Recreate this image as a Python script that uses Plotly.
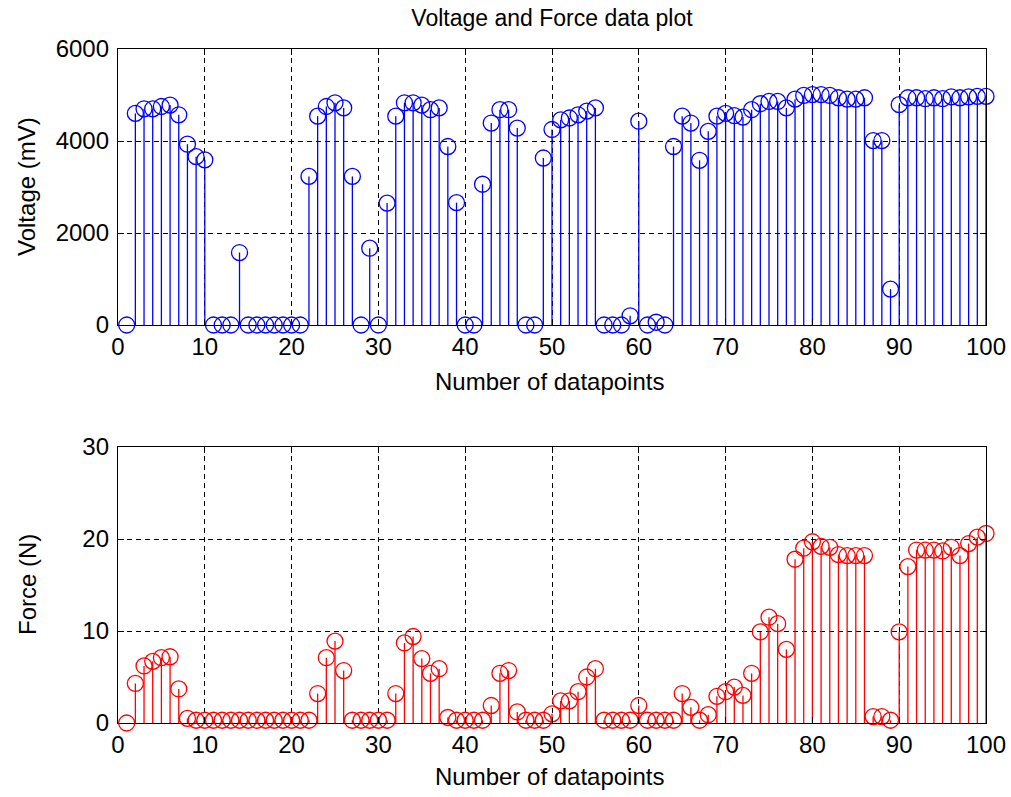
import plotly.graph_objects as go
from plotly.subplots import make_subplots

x_points = list(range(1, 101))

voltage_mv = [
    0, 4600, 4700, 4700, 4750, 4780, 4570, 3930, 3660, 3590,
    0, 0, 0, 1575, 0, 0, 0, 0, 0, 0,
    0, 3230, 4540, 4750, 4830, 4720, 3230, 0, 1670, 0,
    2650, 4540, 4830, 4830, 4780, 4680, 4720, 3880, 2660, 0,
    0, 3060, 4390, 4680, 4680, 4280, 0, 0, 3630, 4250,
    4460, 4500, 4570, 4650, 4720, 0, 0, 0, 200, 4430,
    0, 60, 0, 3880, 4540, 4390, 3580, 4210, 4540, 4600,
    4550, 4520, 4680, 4810, 4860, 4860, 4720, 4910, 4990, 5010,
    5010, 4990, 4940, 4910, 4910, 4940, 4010, 4010, 780, 4790,
    4940, 4940, 4920, 4940, 4920, 4960, 4940, 4960, 4970, 4970,
]

force_n = [
    0, 4.3, 6.2, 6.7, 7.1, 7.2, 3.7, 0.5, 0.3, 0.3,
    0.3, 0.3, 0.3, 0.3, 0.3, 0.3, 0.3, 0.3, 0.3, 0.3,
    0.3, 0.3, 3.2, 7.1, 8.9, 5.7, 0.3, 0.3, 0.3, 0.3,
    0.3, 3.2, 8.7, 9.4, 7.0, 5.4, 5.9, 0.6, 0.3, 0.3,
    0.3, 0.3, 1.9, 5.4, 5.7, 1.2, 0.3, 0.3, 0.3, 1.0,
    2.4, 2.4, 3.4, 5.0, 5.9, 0.3, 0.3, 0.3, 0.3, 1.9,
    0.3, 0.3, 0.3, 0.3, 3.2, 1.7, 0.3, 0.9, 2.9, 3.4,
    3.9, 3.0, 5.4, 9.9, 11.5, 10.8, 8.0, 17.8, 19.0, 19.7,
    19.2, 19.1, 18.3, 18.2, 18.2, 18.2, 0.7, 0.7, 0.3, 9.9,
    17.0, 18.8, 18.8, 18.8, 18.7, 19.1, 18.2, 19.5, 20.2, 20.6,
]

x_ticks = [0, 10, 20, 30, 40, 50, 60, 70, 80, 90, 100]
v_ticks = [0, 2000, 4000, 6000]
f_ticks = [0, 10, 20, 30]

FONT = "Liberation Sans, Arial, sans-serif"
W, H = 1011, 797


def stem_xy(xs, ys):
    sx, sy = [], []
    for a, b in zip(xs, ys):
        sx += [a, a, None]
        sy += [0, b, None]
    return sx, sy


fig = make_subplots(rows=2, cols=1)

for row, vals, color in [(1, voltage_mv, "#0000FF"), (2, force_n, "#FF0000")]:
    sx, sy = stem_xy(x_points, vals)
    fig.add_trace(go.Scatter(x=sx, y=sy, mode="lines",
                             line=dict(color=color, width=1.3),
                             showlegend=False, hoverinfo="skip"), row=row, col=1)
    fig.add_trace(go.Scatter(x=x_points, y=vals, mode="markers",
                             marker=dict(symbol="circle-open", size=16,
                                         color=color, line=dict(width=1.3, color=color)),
                             showlegend=False, cliponaxis=False), row=row, col=1)

xdom = [118 / W, 986 / W]
top_dom = [(H - 325) / H, (H - 49) / H]
bot_dom = [(H - 723) / H, (H - 447) / H]
axis_common = dict(showline=True, linecolor="black", linewidth=1.3, mirror="allticks",
                   ticks="inside", ticklen=6, tickcolor="black", automargin=False,
                   showgrid=True, gridcolor="black", griddash="5px,4px", gridwidth=1,
                   zeroline=False, tickfont=dict(family=FONT, size=24, color="black"))

fig.update_layout(
    template="none",
    width=W, height=H,
    margin=dict(l=0, r=0, t=0, b=0),
    paper_bgcolor="white", plot_bgcolor="white",
    font=dict(family=FONT, color="black"),
    title=dict(text="Voltage and Force data plot", x=552 / W, xanchor="center",
               y=1 - 18 / H, yanchor="middle", font=dict(family=FONT, size=23, color="black")),
    xaxis=dict(domain=xdom, range=[0, 100], tickvals=x_ticks, **axis_common),
    yaxis=dict(domain=top_dom, range=[0, 6000], tickvals=v_ticks,
               ticklabelstandoff=3, **axis_common),
    xaxis2=dict(domain=xdom, range=[0, 100], tickvals=x_ticks, **axis_common),
    yaxis2=dict(domain=bot_dom, range=[0, 30], tickvals=f_ticks,
                ticklabelstandoff=3, **axis_common),
)

title_font = dict(family=FONT, size=24, color="black")
annos = [
    dict(text="Number of datapoints", x=549 / W, y=1 - 381 / H),
    dict(text="Number of datapoints", x=549 / W, y=1 - 776 / H),
    dict(text="Voltage (mV)", x=27 / W, y=1 - 187 / H, textangle=-90),
    dict(text="Force (N)", x=27 / W, y=1 - 585 / H, textangle=-90),
]
for a in annos:
    fig.add_annotation(xref="paper", yref="paper", xanchor="center", yanchor="middle",
                       showarrow=False, font=title_font, **a)

fig.write_html("out.html")
